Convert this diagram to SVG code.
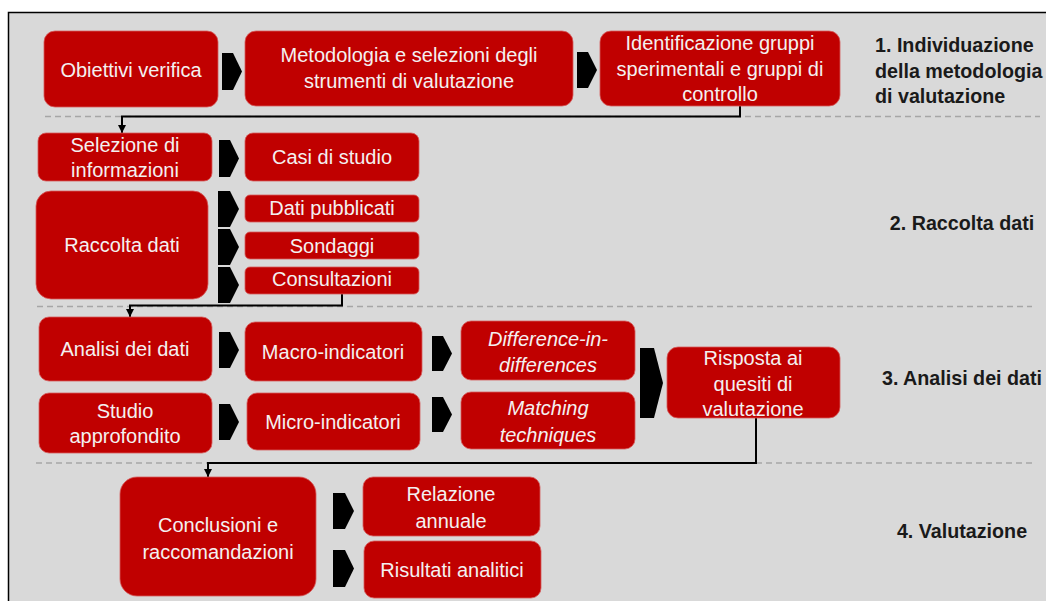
<svg xmlns="http://www.w3.org/2000/svg" width="1046" height="601" viewBox="0 0 1046 601">
<defs>
<style>
.box{fill:#c00000;stroke:#d65a5a;stroke-width:0.8}
.t{font-family:"Liberation Sans",Arial,sans-serif;font-size:20px;fill:#f4f0f0;text-anchor:middle}
.it{font-style:italic}
.h{font-family:"Liberation Sans",Arial,sans-serif;font-size:19.7px;font-weight:bold;fill:#1a1a1a}
.chev{fill:#000}
.dash{stroke:#a6a6a6;stroke-width:1.5;stroke-dasharray:6 4;fill:none}
.con{stroke:#000;stroke-width:2;fill:none}
</style>
<marker id="ah" viewBox="0 0 8 8" refX="4" refY="8" markerWidth="8" markerHeight="8" markerUnits="userSpaceOnUse" orient="auto">
<path d="M0,0 L8,4 L0,8 Z" fill="#000" transform="rotate(90 4 4)"/>
</marker>
<marker id="ah2" viewBox="0 0 8 8" refX="8" refY="4" markerWidth="8" markerHeight="8" markerUnits="userSpaceOnUse" orient="auto">
<path d="M0,0 L8,4 L0,8 Z" fill="#000"/>
</marker>
</defs>
<rect x="0" y="0" width="1046" height="601" fill="#fff"/>
<rect x="8.5" y="12.5" width="1100" height="700" fill="#d9d9d9" stroke="#000" stroke-width="1.5"/>

<g id="separators">
<line class="dash" x1="45" y1="116.5" x2="1040" y2="116.5"/>
<line class="dash" x1="37" y1="306.5" x2="1032" y2="306.5"/>
<line class="dash" x1="36" y1="463" x2="1032" y2="463"/>
</g>

<g id="connectors">
<path class="con" d="M740,106 V116.5 H122 V133" marker-end="url(#ah2)"/>
<path class="con" d="M342,294 V305.5 H130 V317" marker-end="url(#ah2)"/>
<path class="con" d="M756,418 V463 H208 V477" marker-end="url(#ah2)"/>
<polygon class="chev" points="222,53 233,53 242,71.5 233,90 222,90"/>
<polygon class="chev" points="577,52 588,52 597,70 588,88 577,88"/>
<polygon class="chev" points="219,140 230,140 239,158.5 230,177 219,177"/>
<polygon class="chev" points="218,191 230,191 239,209 230,227 218,227"/>
<polygon class="chev" points="218,229 230,229 239,247 230,265 218,265"/>
<polygon class="chev" points="218,267 230,267 239,285 230,303 218,303"/>
<polygon class="chev" points="219,332 230,332 239,350 230,368 219,368"/>
<polygon class="chev" points="219,404 230,404 239,422 230,440 219,440"/>
<polygon class="chev" points="432,336 443,336 452,353.5 443,371 432,371"/>
<polygon class="chev" points="432,397 443,397 452,414.5 443,432 432,432"/>
<polygon class="chev" points="640,348 654,348 663,383 654,418 640,418"/>
<polygon class="chev" points="333,493 345,493 354,511 345,529 333,529"/>
<polygon class="chev" points="333,550 345,550 354,568.5 345,587 333,587"/>
</g>

<g id="n-obiettivi"><rect class="box" x="44" y="31" width="174" height="76" rx="11"/><text class="t" x="131" y="77">Obiettivi verifica</text></g>
<g id="n-metodologia"><rect class="box" x="245" y="31" width="328" height="75" rx="11"/><text class="t" x="409" y="62">Metodologia e selezioni degli</text><text class="t" x="409" y="88">strumenti di valutazione</text></g>
<g id="n-identificazione"><rect class="box" x="600" y="31" width="240" height="75" rx="11"/><text class="t" x="720" y="50">Identificazione gruppi</text><text class="t" x="720" y="76">sperimentali e gruppi di</text><text class="t" x="720" y="101">controllo</text></g>

<g id="n-selezione"><rect class="box" x="38" y="133" width="174" height="48" rx="8"/><text class="t" x="125" y="152">Selezione di</text><text class="t" x="125" y="177">informazioni</text></g>
<g id="n-casi"><rect class="box" x="245" y="133" width="174" height="48" rx="8"/><text class="t" x="332" y="164">Casi di studio</text></g>
<g id="n-raccolta"><rect class="box" x="36" y="191" width="172" height="108" rx="15"/><text class="t" x="122" y="252">Raccolta dati</text></g>
<g id="n-dati"><rect class="box" x="245" y="195" width="174" height="27" rx="5"/><text class="t" x="332" y="215">Dati pubblicati</text></g>
<g id="n-sondaggi"><rect class="box" x="245" y="232" width="174" height="27" rx="5"/><text class="t" x="332" y="253">Sondaggi</text></g>
<g id="n-consultazioni"><rect class="box" x="245" y="267" width="174" height="27" rx="5"/><text class="t" x="332" y="286">Consultazioni</text></g>

<g id="n-analisi"><rect class="box" x="39" y="317" width="173" height="64" rx="10"/><text class="t" x="125" y="356">Analisi dei dati</text></g>
<g id="n-macro"><rect class="box" x="245" y="322" width="177" height="59" rx="10"/><text class="t" x="333" y="359">Macro-indicatori</text></g>
<g id="n-studio"><rect class="box" x="39" y="393" width="173" height="60" rx="10"/><text class="t" x="125" y="418">Studio</text><text class="t" x="125" y="443">approfondito</text></g>
<g id="n-micro"><rect class="box" x="247" y="393" width="173" height="57" rx="10"/><text class="t" x="333" y="429">Micro-indicatori</text></g>
<g id="n-did"><rect class="box" x="461" y="321" width="174" height="59" rx="10"/><text class="t it" x="548" y="346">Difference-in-</text><text class="t it" x="548" y="372">differences</text></g>
<g id="n-matching"><rect class="box" x="461" y="392" width="174" height="57" rx="10"/><text class="t it" x="548" y="415">Matching</text><text class="t it" x="548" y="442">techniques</text></g>
<g id="n-risposta"><rect class="box" x="667" y="347" width="173" height="71" rx="11"/><text class="t" x="753" y="365">Risposta ai</text><text class="t" x="753" y="391">quesiti di</text><text class="t" x="753" y="416">valutazione</text></g>

<g id="n-conclusioni"><rect class="box" x="120" y="477" width="196" height="119" rx="17"/><text class="t" x="218" y="532">Conclusioni e</text><text class="t" x="218" y="559">raccomandazioni</text></g>
<g id="n-relazione"><rect class="box" x="363" y="477" width="177" height="59" rx="10"/><text class="t" x="451" y="501">Relazione</text><text class="t" x="451" y="528">annuale</text></g>
<g id="n-risultati"><rect class="box" x="364" y="541" width="177" height="57" rx="10"/><text class="t" x="452" y="577">Risultati analitici</text></g>

<g id="titles">
<text class="h" x="875" y="52">1. Individuazione</text>
<text class="h" x="875" y="78">della metodologia</text>
<text class="h" x="875" y="103">di valutazione</text>
<text class="h" x="962" y="230" text-anchor="middle">2. Raccolta dati</text>
<text class="h" x="962" y="385" text-anchor="middle">3. Analisi dei dati</text>
<text class="h" x="962" y="538" text-anchor="middle">4. Valutazione</text>
</g>
</svg>
